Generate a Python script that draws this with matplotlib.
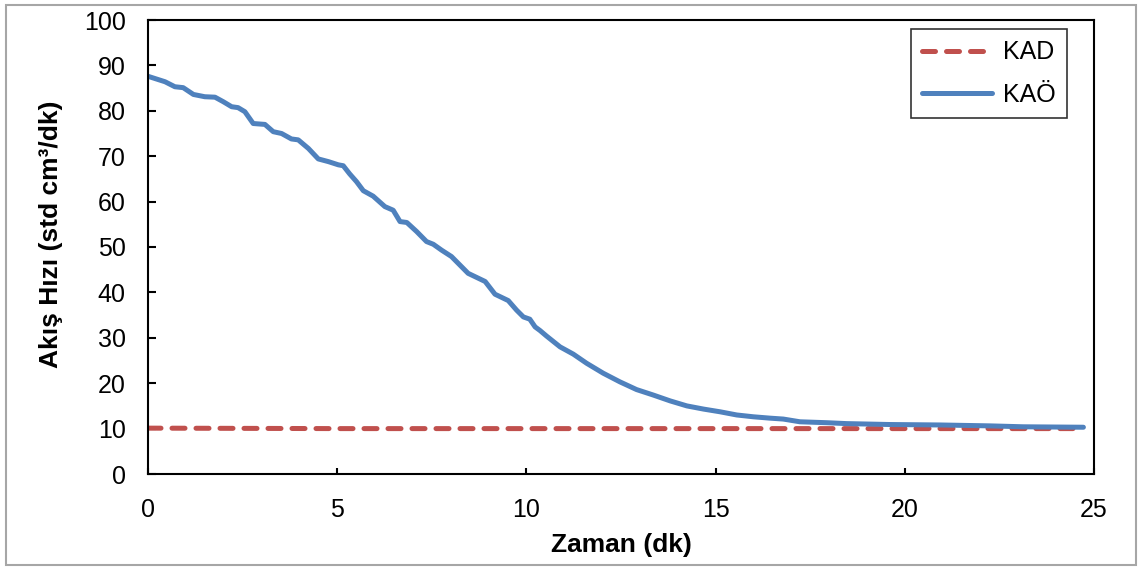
import matplotlib.pyplot as plt
from matplotlib.patches import Rectangle

plt.rcParams['font.family'] = ['Liberation Sans', 'DejaVu Sans']

# KAÖ curve
kao_t = [0.0, 0.45, 0.71, 0.93, 1.2, 1.5, 1.77, 1.99, 2.21, 2.38, 2.56, 2.78, 3.09,
         3.31, 3.53, 3.79, 3.97, 4.24, 4.5, 4.77, 5.03, 5.16, 5.33, 5.51, 5.69, 5.95,
         6.26, 6.48, 6.66, 6.84, 7.1, 7.36, 7.54, 7.76, 8.02, 8.46, 8.91, 9.17, 9.52,
         9.74, 9.92, 10.09, 10.23, 10.36, 10.53, 10.89, 11.24, 11.59, 12.03, 12.47,
         12.91, 13.35, 13.8, 14.24, 14.68, 15.12, 15.56, 16.0, 16.44, 16.79, 17.23,
         17.93, 18.46, 19.6, 20.93, 22.25, 23.13, 24.72]
kao_q = [87.6, 86.4, 85.3, 85.1, 83.6, 83.1, 83.0, 82.0, 80.9, 80.7, 79.8, 77.2, 77.0,
         75.4, 75.0, 73.8, 73.6, 71.7, 69.4, 68.8, 68.1, 67.9, 66.1, 64.4, 62.4, 61.2,
         58.9, 58.1, 55.6, 55.4, 53.4, 51.2, 50.6, 49.3, 47.9, 44.2, 42.4, 39.6, 38.2,
         36.1, 34.6, 34.1, 32.4, 31.6, 30.4, 28.0, 26.4, 24.4, 22.2, 20.3,
         18.6, 17.4, 16.1, 15.0, 14.3, 13.7, 13.0, 12.6, 12.3, 12.1, 11.5,
         11.3, 11.1, 10.9, 10.8, 10.6, 10.4, 10.3]

# KAD, flat around 10
kad_t = [0.0, 5.0, 10.0, 15.0, 20.0, 24.72]
kad_q = [10.1, 10.0, 10.0, 10.0, 10.0, 10.0]

tick_fs = 18
label_fs = 19

fig = plt.figure(figsize=(11.42, 5.70), dpi=100)
ax = fig.add_axes([148 / 1142, 96 / 570, 946 / 1142, 454 / 570])

# outer chart border
fig.patches.append(Rectangle((6 / 1142, 5 / 570), 1130 / 1142, 560 / 570,
                             transform=fig.transFigure, fill=False,
                             edgecolor='#a6a6a6', linewidth=1.5))

ax.plot(kad_t, kad_q, color='#C0504D', linewidth=3.6, linestyle=(0, (2.6, 2.2)),
        dash_capstyle='round', label='KAD')
ax.plot(kao_t, kao_q, color='#4F81BD', linewidth=3.6, solid_capstyle='round',
        solid_joinstyle='round', label='KAÖ')

ax.set_xlim(0, 25)
ax.set_ylim(0, 100)
ax.set_xticks(range(0, 26, 5))
ax.set_yticks(range(0, 101, 10))
ax.tick_params(axis='x', direction='in', length=4, width=1.5, labelsize=tick_fs, pad=17)
ax.tick_params(axis='y', direction='in', length=6, width=1.5, labelsize=tick_fs, pad=16)
for s in ax.spines.values():
    s.set_linewidth(1.5)

ax.set_xlabel('Zaman (dk)', fontsize=label_fs, fontweight='bold', labelpad=8)
ax.set_ylabel('Akış Hızı (std cm³/dk)', fontsize=label_fs, fontweight='bold')
ax.yaxis.set_label_coords(-0.09, 0.529)

leg = ax.legend(loc='upper right', bbox_to_anchor=(0.9715, 0.98), borderaxespad=0,
                fontsize=tick_fs, frameon=True, fancybox=False, edgecolor='black',
                handlelength=2.8, handletextpad=0.45, labelspacing=0.75, borderpad=0.45)
leg.get_frame().set_linewidth(1.2)

fig.savefig('out.png', dpi=100)
